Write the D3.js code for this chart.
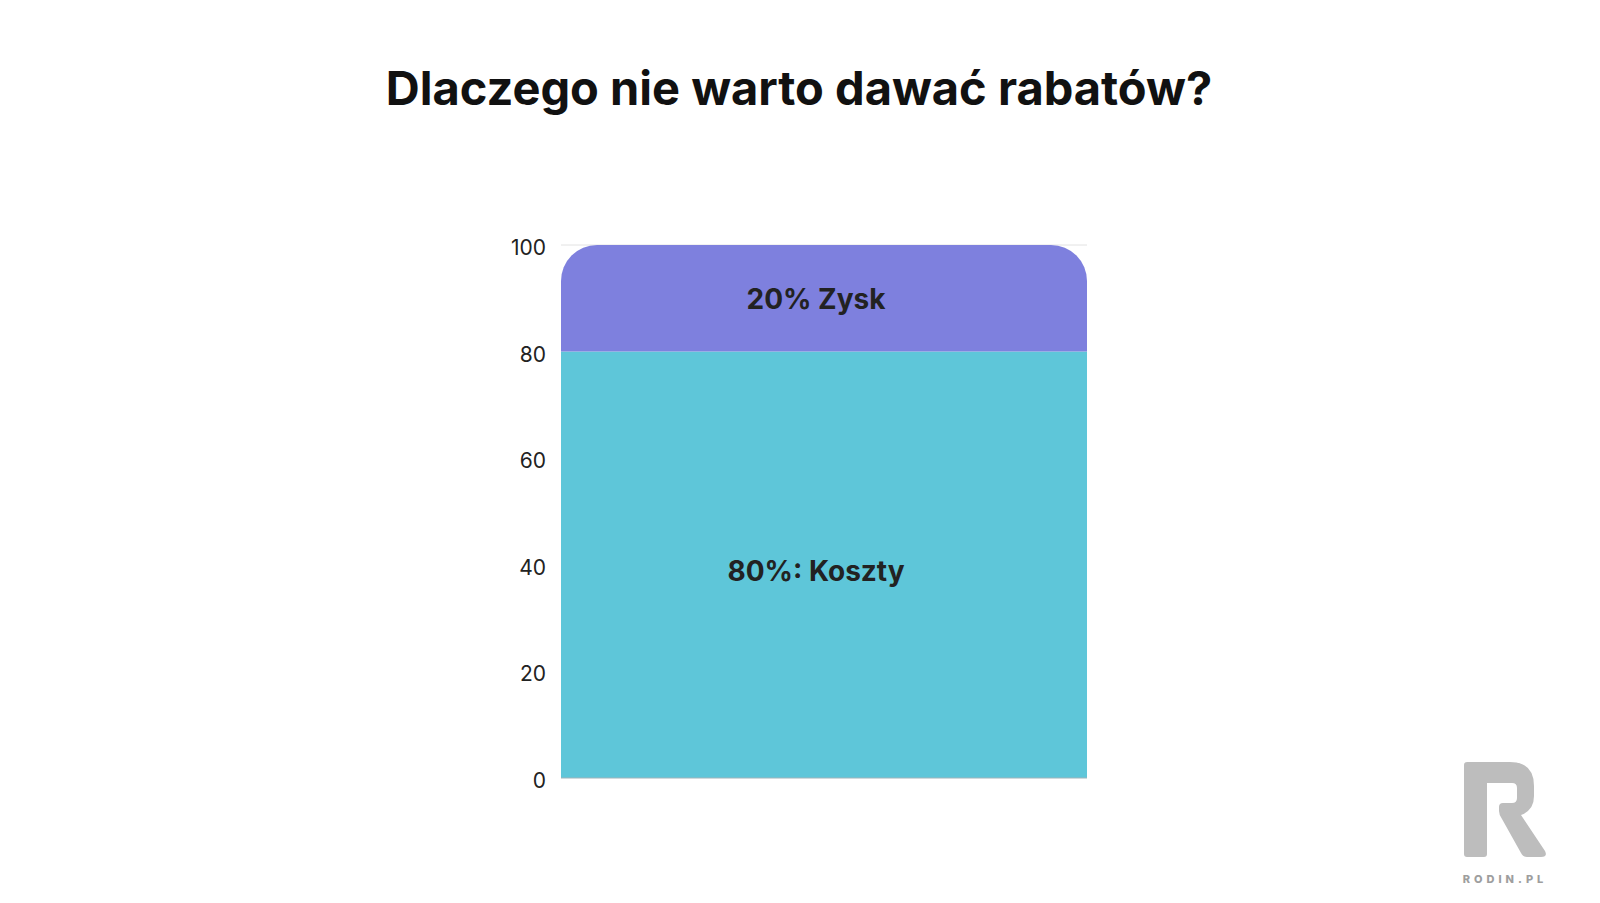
<!DOCTYPE html>
<html><head><meta charset="utf-8">
<script src="https://cdn.jsdelivr.net/npm/d3@7"></script>
<style>
html,body{margin:0;padding:0;background:#fff;}
svg{display:block;}
</style></head>
<body>
<svg id="chart" width="1600" height="903"></svg>
<script>
const title = "Dlaczego nie warto dawać rabatów?";
const categories = ["Marża"];
const seriesNames = ["Koszty", "Zysk"];
const seriesValues = [[80], [20]];
const seriesLabels = ["80%: Koszty", "20% Zysk"];
const seriesColors = ["#5ec6d9", "#7e80de"];
const yTicks = [0, 20, 40, 60, 80, 100];

const svg = d3.select("#chart");
const font = "Inter, 'Open Sans', sans-serif";

svg.append("text").attr("x", 799).attr("y", 105).attr("text-anchor", "middle")
  .attr("font-family", font).attr("font-weight", 700).attr("font-size", 47)
  .attr("fill", "#111").text(title);

const x = d3.scaleBand().domain(categories).range([561, 1087]).padding(0);
const y = d3.scaleLinear().domain([0, 100]).range([778, 245]);

// gridline at top
svg.append("line").attr("x1", 561).attr("x2", 1087).attr("y1", y(100)).attr("y2", y(100))
  .attr("stroke", "#e2e2e2").attr("stroke-width", 1);

const yAxis = d3.axisLeft(y).tickValues(yTicks).tickSize(0).tickPadding(15);
const ga = svg.append("g").attr("transform", "translate(561,0)").call(yAxis);
ga.select(".domain").remove();
ga.selectAll("text").attr("font-family", font).attr("font-size", 21).attr("fill", "#222")
  .attr("dy", "0.45em");

const stacked = d3.stack().keys(d3.range(seriesNames.length))
  .value((d, k) => seriesValues[k][categories.indexOf(d)])(categories);

const r = 36;
stacked.forEach((layer, si) => {
  layer.forEach((seg, ci) => {
    const cat = categories[ci];
    const x0 = x(cat), x1 = x(cat) + x.bandwidth();
    const yTop = y(seg[1]), yBot = y(seg[0]);
    const isTop = si === stacked.length - 1;
    let p;
    if (isTop) {
      p = `M${x0},${yBot} L${x0},${yTop + r} A${r},${r} 0 0 1 ${x0 + r},${yTop} L${x1 - r},${yTop} A${r},${r} 0 0 1 ${x1},${yTop + r} L${x1},${yBot} Z`;
    } else {
      p = `M${x0},${yBot} L${x0},${yTop} L${x1},${yTop} L${x1},${yBot} Z`;
    }
    svg.append("path").attr("d", p).attr("fill", seriesColors[si]);
    svg.append("text").attr("x", (x0 + x1) / 2 - 8).attr("y", (yTop + yBot) / 2 + (si === 0 ? 9 : 3))
      .attr("text-anchor", "middle").attr("dominant-baseline", "middle")
      .attr("font-family", font).attr("font-weight", 700).attr("font-size", 28)
      .attr("fill", "#222").text(seriesLabels[si]);
  });
});

// baseline
svg.append("line").attr("x1", 561).attr("x2", 1087).attr("y1", y(0)).attr("y2", y(0))
  .attr("stroke", "#a0b4ba").attr("stroke-width", 1);

// logo
svg.append("path").attr("fill", "#bdbdbd").attr("d",
  "M1467,762 L1510,762 Q1534,762 1534,786 L1534,796 Q1534,810 1521,815 L1545,851 Q1548,857 1541,857 L1527,857 Q1523,857 1521,853 L1502,819 Q1499,815 1499,811 L1499,807 Q1499,803 1503,803 L1512,803 Q1517,803 1517,798 L1517,788 Q1517,783 1512,783 L1487,783 L1487,854 Q1487,857 1484,857 L1467,857 Q1464,857 1464,854 L1464,765 Q1464,762 1467,762 Z");
svg.append("text").attr("x", 1505).attr("y", 883).attr("text-anchor", "middle")
  .attr("font-family", font).attr("font-weight", 800).attr("font-size", 11)
  .attr("letter-spacing", 4).attr("fill", "#9e9e9e").text("RODIN.PL");
</script>
</body></html>
